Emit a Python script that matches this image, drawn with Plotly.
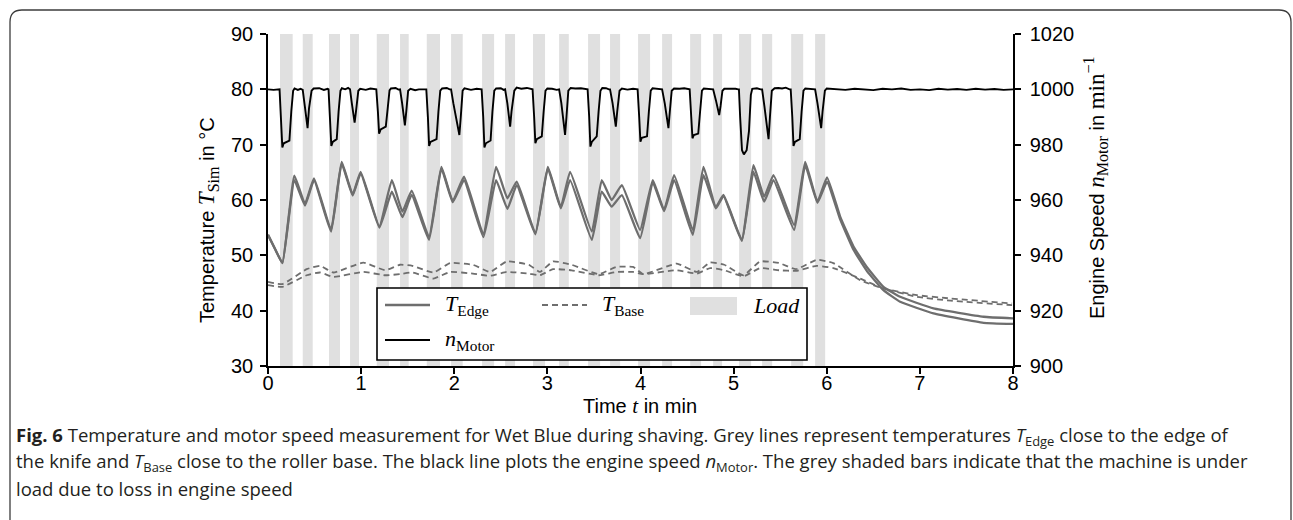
import plotly.graph_objects as go

# ---------------- data ----------------
load_start = [0.129, 0.373, 0.655, 0.881, 1.168, 1.418, 1.705, 1.966, 2.299, 2.546, 2.846,
              3.126, 3.437, 3.673, 3.974, 4.232, 4.533, 4.780, 5.059, 5.306, 5.618, 5.875]
load_end = [0.265, 0.480, 0.773, 0.977, 1.300, 1.511, 1.847, 2.091, 2.428, 2.653, 2.975,
            3.230, 3.566, 3.781, 4.103, 4.339, 4.651, 4.876, 5.188, 5.414, 5.747, 5.983]

t_edge = [0.00, 0.08, 0.155, 0.283, 0.397, 0.494, 0.677, 0.791, 0.909, 0.995, 1.196, 1.33,
          1.443, 1.543, 1.729, 1.862, 1.984, 2.105, 2.313, 2.449, 2.571, 2.671, 2.871, 3.005,
          3.144, 3.244, 3.477, 3.584, 3.69, 3.80, 3.996, 4.132, 4.253, 4.361, 4.561, 4.676,
          4.809, 4.891, 5.088, 5.213, 5.328, 5.428, 5.65, 5.768, 5.90, 6.003, 6.144, 6.287,
          6.43, 6.609, 6.788, 7.146, 7.683, 8.0]
T_edge_1 = [53.7, 51.0, 48.6, 64.4, 59.3, 63.9, 54.6, 66.9, 61.0, 65.1, 55.2, 63.6,
            57.9, 61.7, 53.3, 66.0, 59.8, 64.2, 53.8, 66.0, 60.3, 63.3, 54.0, 66.0,
            58.7, 65.1, 54.3, 63.6, 60.0, 62.7, 54.6, 63.6, 58.2, 64.5, 54.6, 66.0,
            58.7, 60.9, 52.8, 66.3, 60.6, 64.5, 55.5, 66.9, 59.7, 64.1, 57.0, 51.6,
            47.9, 44.3, 42.5, 40.4, 38.9, 38.6]
T_edge_2 = [53.7, 51.0, 48.6, 63.6, 59.0, 63.6, 54.3, 66.6, 60.8, 64.8, 55.0, 61.5,
            56.9, 60.9, 52.8, 65.7, 59.6, 63.6, 53.3, 63.6, 58.4, 62.7, 53.8, 65.7,
            58.5, 63.6, 52.8, 61.5, 58.8, 60.9, 53.1, 63.2, 58.0, 63.6, 53.7, 64.5,
            58.5, 60.7, 52.6, 65.1, 59.7, 63.6, 54.6, 66.3, 59.5, 63.3, 56.5, 51.0,
            47.2, 43.7, 41.6, 39.5, 37.8, 37.6]

t_base = [0.00, 0.155, 0.415, 0.559, 0.702, 1.024, 1.257, 1.418, 1.55, 1.776, 1.955, 2.20,
          2.385, 2.563, 2.80, 2.92, 3.06, 3.26, 3.55, 3.74, 3.92, 4.03, 4.39, 4.605, 4.748,
          4.90, 5.105, 5.285, 5.49, 5.67, 5.893, 6.07, 6.36, 6.61, 6.97, 7.33, 7.99]
T_base_1 = [45.2, 44.8, 47.5, 48.1, 46.9, 48.7, 47.3, 48.3, 48.1, 46.9, 48.6, 48.3,
            47.0, 48.9, 48.3, 47.0, 48.9, 48.3, 46.6, 47.9, 47.9, 46.6, 48.5, 47.0, 48.7,
            48.3, 46.4, 48.9, 48.6, 47.5, 49.2, 48.6, 45.5, 44.0, 42.8, 42.2, 41.3]
T_base_2 = [44.6, 44.3, 46.4, 46.9, 46.1, 47.0, 46.4, 46.6, 46.9, 45.8, 47.0, 46.7,
            46.3, 47.0, 46.7, 46.4, 47.5, 47.3, 46.4, 47.0, 47.0, 46.6, 47.3, 46.7, 47.7,
            47.3, 46.2, 47.7, 47.3, 47.2, 48.1, 47.7, 45.8, 44.0, 42.5, 41.8, 41.0]

t_motor = [
    0.00, 0.06, 0.124, 0.141, 0.154, 0.169, 0.230, 0.250, 0.270, 0.285, 0.32, 0.35,
    0.373, 0.395, 0.425, 0.44, 0.468, 0.49, 0.55, 0.60, 0.64,
    0.650, 0.667, 0.680, 0.695, 0.738, 0.758, 0.778, 0.793, 0.83, 0.86,
    0.881, 0.90, 0.93, 0.945, 0.97, 0.99, 1.05, 1.10, 1.15,
    1.163, 1.180, 1.193, 1.21, 1.265, 1.285, 1.305, 1.32, 1.37, 1.40,
    1.418, 1.44, 1.47, 1.485, 1.505, 1.53, 1.58, 1.62, 1.68,
    1.700, 1.717, 1.730, 1.745, 1.81, 1.83, 1.85, 1.87, 1.92, 1.95,
    1.966, 1.99, 2.03, 2.055, 2.07, 2.09, 2.11, 2.18, 2.24, 2.28,
    2.294, 2.311, 2.324, 2.34, 2.39, 2.41, 2.43, 2.45, 2.50, 2.53,
    2.546, 2.57, 2.60, 2.615, 2.645, 2.67, 2.72, 2.78, 2.83,
    2.841, 2.858, 2.871, 2.886, 2.94, 2.96, 2.98, 3.00, 3.05, 3.10,
    3.126, 3.15, 3.19, 3.205, 3.225, 3.25, 3.30, 3.36, 3.42,
    3.432, 3.449, 3.462, 3.477, 3.53, 3.55, 3.57, 3.59, 3.63, 3.66,
    3.673, 3.70, 3.735, 3.75, 3.775, 3.80, 3.86, 3.92, 3.96,
    3.969, 3.986, 3.999, 4.014, 4.07, 4.09, 4.11, 4.13, 4.18, 4.22,
    4.232, 4.26, 4.30, 4.315, 4.335, 4.36, 4.42, 4.47, 4.52,
    4.528, 4.545, 4.558, 4.573, 4.62, 4.64, 4.66, 4.68, 4.72, 4.76,
    4.780, 4.81, 4.845, 4.86, 4.88, 4.90, 4.96, 5.02, 5.05,
    5.057, 5.07, 5.09, 5.11, 5.14, 5.165, 5.185, 5.20, 5.25, 5.29,
    5.306, 5.33, 5.375, 5.39, 5.41, 5.44, 5.48, 5.52, 5.56, 5.60,
    5.613, 5.630, 5.643, 5.658, 5.71, 5.73, 5.75, 5.77, 5.82, 5.86,
    5.875, 5.90, 5.94, 5.955, 5.98, 6.00,
    6.10, 6.20, 6.30, 6.40, 6.50, 6.60, 6.70, 6.80, 6.90, 7.00,
    7.10, 7.20, 7.30, 7.40, 7.50, 7.60, 7.70, 7.80, 7.90, 8.00]
n_motor = [
    1000.0, 999.8, 1000.0, 990.0, 979.0, 980.5, 981.5, 992.0, 999.5, 1000.3, 999.8, 1000.2,
    999.8, 994.0, 986.0, 993.0, 999.5, 1000.3, 1000.4, 999.8, 1000.2,
    1000.0, 990.0, 979.5, 981.0, 982.0, 992.0, 999.5, 1000.4, 1000.0, 1000.5,
    1000.0, 995.0, 988.0, 992.0, 999.5, 1000.2, 999.8, 1000.3, 999.9,
    1000.0, 992.0, 984.0, 985.5, 986.5, 993.0, 999.6, 1000.3, 1000.5, 999.9,
    1000.0, 995.0, 987.0, 992.0, 999.5, 1000.2, 999.7, 1000.0, 1000.1,
    1000.0, 990.0, 979.5, 981.0, 982.0, 992.0, 999.5, 1000.3, 1000.5, 1000.0,
    1000.0, 995.0, 987.0, 983.5, 990.0, 999.5, 1000.4, 999.8, 1000.2, 999.9,
    1000.0, 990.0, 979.0, 980.5, 981.5, 992.0, 999.5, 1000.3, 1000.4, 999.8,
    1000.0, 995.0, 986.5, 992.0, 999.5, 1000.6, 1000.2, 1000.5, 1000.0,
    1000.0, 990.0, 980.5, 982.0, 983.0, 992.0, 999.5, 1000.3, 1000.2, 999.8,
    1000.0, 995.0, 983.5, 990.0, 999.5, 1000.5, 1000.3, 1000.4, 1000.0,
    1000.0, 990.0, 979.3, 981.0, 983.0, 992.0, 999.5, 1000.5, 1000.4, 1000.0,
    1000.0, 995.0, 986.5, 992.0, 999.5, 1000.3, 999.9, 1000.2, 1000.0,
    1000.0, 990.0, 981.1, 982.5, 983.0, 992.0, 999.5, 1000.4, 1000.3, 1000.0,
    1000.0, 995.0, 986.0, 992.0, 999.5, 1000.3, 1000.2, 1000.4, 1000.0,
    1000.0, 990.0, 982.3, 983.5, 984.0, 992.0, 999.5, 1000.3, 1000.2, 1000.0,
    1000.0, 996.0, 990.7, 994.0, 999.5, 1000.2, 1000.3, 1000.2, 1000.0,
    1000.0, 990.0, 978.0, 976.5, 978.0, 985.0, 998.0, 1000.2, 1000.4, 1000.0,
    1000.0, 994.0, 982.0, 990.0, 999.5, 1000.4, 1000.5, 1000.3, 1000.6, 1000.0,
    1000.0, 990.0, 979.5, 981.0, 982.0, 992.0, 999.5, 1000.3, 1000.2, 1000.0,
    1000.0, 995.0, 986.0, 992.0, 999.5, 1000.3,
    1000.0, 999.8, 1000.2, 1000.0, 999.7, 1000.2, 1000.0, 1000.3, 999.8, 1000.0,
    999.7, 1000.2, 999.9, 1000.1, 999.8, 1000.2, 999.9, 1000.1, 999.8, 1000.0]

x_ticks = [0, 1, 2, 3, 4, 5, 6, 7, 8]
y_ticks = [30, 40, 50, 60, 70, 80, 90]
y2_ticks = [900, 920, 940, 960, 980, 1000, 1020]

# ---------------- layout helpers ----------------
W, H = 1293, 520
L, R, T, B = 268, 280, 34, 154
PW, PH = W - L - R, H - T - B


def px(xp):
    return (xp - L) / PW


def py(yp):
    return (H - B - yp) / PH


SERIF = "Liberation Serif"
SANS = "Liberation Sans"
GREY = "#6e6e6e"


def serif(s, size=23):
    return '<span style="font-family:%s;font-size:%dpx">%s</span>' % (SERIF, size, s)


fig = go.Figure()

fig.add_trace(go.Scatter(x=t_edge, y=T_edge_1, mode="lines", showlegend=False,
                         line=dict(color=GREY, width=2.3, shape="spline", smoothing=0.35)))
fig.add_trace(go.Scatter(x=t_edge, y=T_edge_2, mode="lines", showlegend=False,
                         line=dict(color=GREY, width=2.3, shape="spline", smoothing=0.35)))
fig.add_trace(go.Scatter(x=t_base, y=T_base_1, mode="lines", showlegend=False,
                         line=dict(color=GREY, width=1.8, dash="6px,4px", shape="spline", smoothing=0.4)))
fig.add_trace(go.Scatter(x=t_base, y=T_base_2, mode="lines", showlegend=False,
                         line=dict(color=GREY, width=1.8, dash="6px,4px", shape="spline", smoothing=0.4)))
fig.add_trace(go.Scatter(x=t_motor, y=n_motor, mode="lines", showlegend=False, yaxis="y2",
                         line=dict(color="black", width=1.9)))

shapes = []
for s, e in zip(load_start, load_end):
    shapes.append(dict(type="rect", xref="x", yref="paper", x0=s, x1=e, y0=0, y1=1,
                       fillcolor="#e0e0e0", line=dict(width=0), layer="below"))

# legend box (drawn manually)
lx0, lx1, ly0, ly1 = 377, 807, 288, 360
shapes.append(dict(type="rect", xref="paper", yref="paper", x0=px(lx0), x1=px(lx1),
                   y0=py(ly1), y1=py(ly0), fillcolor="white",
                   line=dict(color="black", width=1.6), layer="above"))
row1, row2 = 305, 340
shapes.append(dict(type="line", xref="paper", yref="paper", x0=px(385), x1=px(430),
                   y0=py(row1), y1=py(row1), line=dict(color=GREY, width=2.3), layer="above"))
shapes.append(dict(type="line", xref="paper", yref="paper", x0=px(542), x1=px(587),
                   y0=py(row1), y1=py(row1), line=dict(color=GREY, width=1.8, dash="6px,4px"),
                   layer="above"))
shapes.append(dict(type="rect", xref="paper", yref="paper", x0=px(690), x1=px(737),
                   y0=py(315), y1=py(297), fillcolor="#e0e0e0", line=dict(width=0),
                   layer="above"))
shapes.append(dict(type="line", xref="paper", yref="paper", x0=px(385), x1=px(430),
                   y0=py(row2), y1=py(row2), line=dict(color="black", width=1.9), layer="above"))

# rounded outer frame
fx0, fx1, fy0, fy1, rr = 10, 1291, 10, 560, 12
path = ("M %f,%f L %f,%f Q %f,%f %f,%f L %f,%f Q %f,%f %f,%f L %f,%f" % (
    px(fx0), py(fy1), px(fx0), py(fy0 + rr), px(fx0), py(fy0), px(fx0 + rr), py(fy0),
    px(fx1 - rr), py(fy0), px(fx1), py(fy0), px(fx1), py(fy0 + rr), px(fx1), py(fy1)))
shapes.append(dict(type="path", xref="paper", yref="paper", path=path,
                   line=dict(color="#3c3c3c", width=1.3), layer="above"))

annotations = []
leg_font = dict(family=SERIF, size=22, color="black")
for xx, yy, txt in [(443, row1, "<i>T</i><sub>Edge</sub>"),
                    (600, row1, "<i>T</i><sub>Base</sub>"),
                    (751, row1, "<i>Load</i>"),
                    (443, row2, "<i>n</i><sub>Motor</sub>")]:
    annotations.append(dict(xref="paper", yref="paper", x=px(xx), y=py(yy), xanchor="left",
                            yanchor="middle", showarrow=False, text=txt, font=leg_font))

title_font = dict(family=SANS, size=20, color="black")
annotations.append(dict(xref="paper", yref="paper", x=px(208), y=py(220), xanchor="center",
                        yanchor="middle", showarrow=False, textangle=-90, font=title_font,
                        text="Temperature " + serif("<i>T</i><sub>Sim</sub>") + " in °C"))
annotations.append(dict(xref="paper", yref="paper", x=px(1095), y=py(188), xanchor="center",
                        yanchor="middle", showarrow=False, textangle=-90, font=title_font,
                        text="Engine Speed " + serif("<i>n</i><sub>Motor</sub>") + " in "
                        + serif("min<sup>−1</sup>")))
annotations.append(dict(xref="paper", yref="paper", x=px(640), y=py(406), xanchor="center",
                        yanchor="middle", showarrow=False, font=title_font,
                        text="Time " + serif("<i>t</i>", 21) + " in min"))

cap_font = dict(family="Open Sans", size=18.5, color="#231f20")
captions = [
    "<b>Fig. 6</b> Temperature and motor speed measurement for Wet Blue during shaving. Grey lines "
    "represent temperatures <i>T</i><sub>Edge</sub> close to the edge of",
    "the knife and <i>T</i><sub>Base</sub> close to the roller base. The black line plots the engine "
    "speed <i>n</i><sub>Motor</sub>. The grey shaded bars indicate that the machine is under",
    "load due to loss in engine speed",
]
for i, c in enumerate(captions):
    annotations.append(dict(xref="paper", yref="paper", x=px(14), y=py(436 + 26 * i),
                            xanchor="left", yanchor="middle", showarrow=False, text=c,
                            font=cap_font, align="left"))

axis_common = dict(showline=True, linecolor="black", linewidth=1.5, ticks="outside",
                   ticklen=6, tickwidth=1.5, tickcolor="black", showgrid=False, zeroline=False,
                   tickfont=dict(family=SANS, size=20, color="black"), mirror=False)

fig.update_layout(
    width=W, height=H,
    margin=dict(l=L, r=R, t=T, b=B, pad=0),
    paper_bgcolor="white", plot_bgcolor="white",
    showlegend=False,
    xaxis=dict(range=[0, 8], tickvals=x_ticks, ticklabelstandoff=-8, **axis_common),
    yaxis=dict(range=[30, 90], tickvals=y_ticks, ticklabelstandoff=3, **axis_common),
    yaxis2=dict(range=[900, 1020], tickvals=y2_ticks, overlaying="y", side="right",
                ticklabelstandoff=5, **axis_common),
    shapes=shapes,
    annotations=annotations,
)

fig.write_html("out.html")
